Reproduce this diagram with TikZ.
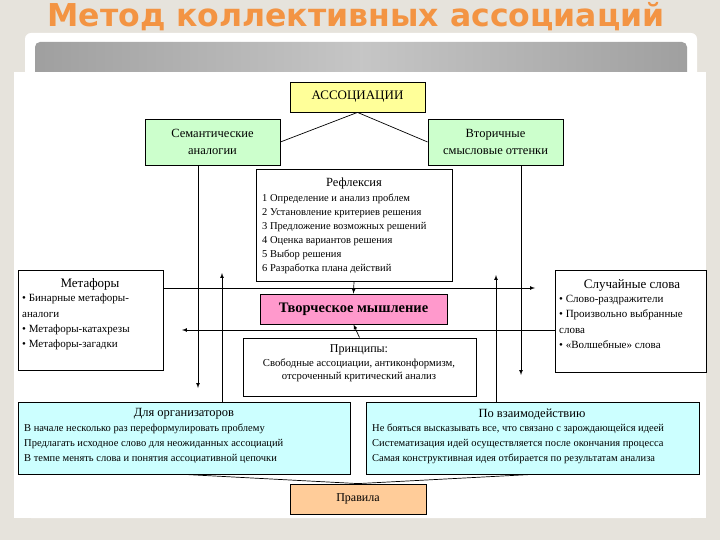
\documentclass[tikz,border=0pt]{standalone}
\usepackage{fontspec}
\setmainfont{Liberation Serif}
\newfontfamily\titlefont{DejaVu Sans}
\usetikzlibrary{arrows,positioning,calc}

\definecolor{pagebg}{HTML}{E6E3DC}
\definecolor{titleor}{HTML}{F39443}
\definecolor{assocyel}{HTML}{FFFF99}
\definecolor{anagreen}{HTML}{CCFFCC}
\definecolor{tvorpink}{HTML}{FF99CC}
\definecolor{rulecyan}{HTML}{CCFFFF}
\definecolor{ruleor}{HTML}{FFCC99}

\begin{document}
\begin{tikzpicture}[x=1pt, y=-1pt, font=\fontsize{11}{13}\selectfont]
    \tikzset{
      box/.style={draw, line width=0.8pt, inner sep=0pt},
      hd/.style={font=\fontsize{12.5}{17}\selectfont, inner sep=0pt, align=center},
      lst/.style={align=left, inner sep=0pt, anchor=north west,
                  font=\fontsize{10.5}{14}\selectfont},
      arr/.style={-latex, line width=0.7pt},
      ln/.style={line width=0.7pt},
    }
    % slide background
    \useasboundingbox (0,0) rectangle (720,540);
    \fill[pagebg] (0,0) rectangle (720,540);
    \fill[white, rounded corners=6pt] (25,33) rectangle (697,518);
    \shade[left color=gray!75, right color=gray!75, middle color=gray!45,
           rounded corners=5pt] (35,42) rectangle (687,90);
    \fill[white] (14,72) rectangle (706,518);
    \node[font=\titlefont\bfseries\fontsize{31.5}{34}\selectfont, text=titleor,
          inner sep=0pt] (title) at (356,17) {Метод коллективных ассоциаций};

    % boxes
    \node[box, fill=assocyel, minimum width=135pt, minimum height=30pt,
          font=\fontsize{13}{15}\selectfont] (assoc) at (357.5,97) {АССОЦИАЦИИ};
    \node[box, fill=anagreen, minimum width=135pt, minimum height=46pt] (sem) at (212.5,142) {};
    \node[box, fill=anagreen, minimum width=135pt, minimum height=46pt] (vtor) at (495.5,142) {};
    \node[box, minimum width=196pt, minimum height=112pt] (refl) at (354,225) {};
    \node[box, minimum width=145pt, minimum height=100pt] (metaf) at (90.5,320) {};
    \node[box, minimum width=151pt, minimum height=102pt] (sluch) at (630.5,321) {};
    \node[box, fill=tvorpink, minimum width=187pt, minimum height=30pt,
          font=\bfseries\fontsize{14.5}{16}\selectfont] (tvor) at (353.5,309) {Творческое мышление};
    \node[box, minimum width=233pt, minimum height=58pt] (princ) at (359.5,367) {};
    \node[box, fill=rulecyan, minimum width=332pt, minimum height=72pt] (org) at (184,438) {};
    \node[box, fill=rulecyan, minimum width=333pt, minimum height=72pt] (vzaim) at (532.5,438) {};
    \node[box, fill=ruleor, minimum width=136pt, minimum height=30pt,
          font=\fontsize{12}{14}\selectfont] (pravila) at (358,499) {Правила};

    % texts
    \node[hd] (semtxt) at (sem.center) {Семантические\\аналогии};
    \node[hd] (vtortxt) at (vtor.center) {Вторичные\\смысловые оттенки};
    \node[hd] (refltitle) at (354,183) {Рефлексия};
    \node[lst] (refllist) at (262,193.5) {1 Определение и анализ проблем\\
      2 Установление критериев решения\\3 Предложение возможных решений\\
      4 Оценка вариантов решения\\5 Выбор решения\\6 Разработка плана действий};
    \node[hd, font=\fontsize{13}{15}\selectfont] (metaftitle) at (90,284) {Метафоры};
    \node[lst, font=\fontsize{11}{15.3}\selectfont] (metaflist) at (22,294) {• Бинарные метафоры-\\
      аналоги\\• Метафоры-катахрезы\\• Метафоры-загадки};
    \node[hd, font=\fontsize{13}{15}\selectfont] (sluchtitle) at (632,285) {Случайные слова};
    \node[lst, font=\fontsize{11}{15.3}\selectfont] (sluchlist) at (559,295) {• Слово-раздражители\\
      • Произвольно выбранные\\слова\\• «Волшебные» слова};
    \node[hd, font=\fontsize{12}{14}\selectfont] (princtitle) at (359,350) {Принципы:};
    \node[hd, font=\fontsize{10.7}{13}\selectfont] (princtxt) at (359,370.5) {Свободные ассоциации, антиконформизм,\\
      отсроченный критический анализ};
    \node[hd] (orgtitle) at (184,414) {Для организаторов};
    \node[lst, font=\fontsize{10.5}{15}\selectfont] (orglist) at (24,424) {В начале несколько раз переформулировать проблему\\
      Предлагать исходное слово для неожиданных ассоциаций\\
      В темпе менять слова и понятия ассоциативной цепочки};
    \node[hd] (vzaimtitle) at (532,414) {По взаимодействию};
    \node[lst, font=\fontsize{10.5}{15}\selectfont] (vzaimlist) at (372,424) {Не бояться высказывать все, что связано с зарождающейся идеей\\
      Систематизация идей осуществляется после окончания процесса\\
      Самая конструктивная идея отбирается по результатам анализа};

    % connectors
    \coordinate (semdown) at (198,388);
    \coordinate (vtordown) at (521,375);
    \coordinate (orgup) at (222,273);
    \coordinate (vzaimup) at (496,275);
    \coordinate (tosluch) at (535,288);
    \coordinate (tometaf) at (182,330);
    \draw[ln] (assoc.south) -- (sem.east);
    \draw[ln] (assoc.south) -- (vtor.west);
    \draw[arr] (sem.south -| semdown) -- (semdown);
    \draw[arr] (vtor.south -| vtordown) -- (vtordown);
    \draw[arr] (org.north -| orgup) -- (orgup);
    \draw[arr] (vzaim.north -| vzaimup) -- (vzaimup);
    \draw[arr] (metaf.east |- tosluch) -- (tosluch);
    \draw[arr] (sluch.west |- tometaf) -- (tometaf);
    \draw[arr] (refl.south) -- (tvor.north);
    \draw[arr] (princ.north) -- (tvor.south);
    \draw[ln] (pravila.north) -- (org.south);
    \draw[ln] (pravila.north) -- (vzaim.south);
\end{tikzpicture}
\end{document}
